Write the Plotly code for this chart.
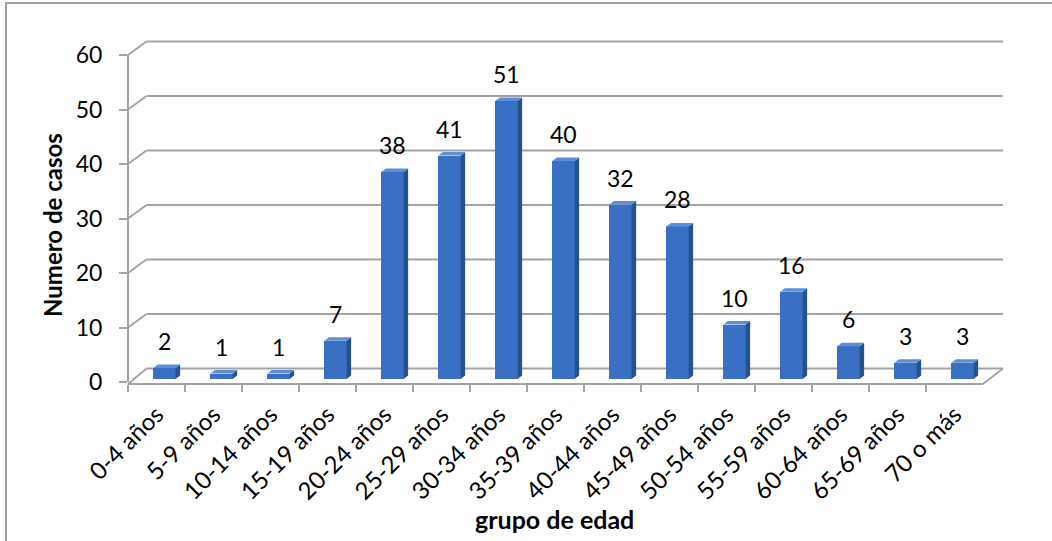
import plotly.graph_objects as go

categories = ["0-4 años", "5-9 años", "10-14 años", "15-19 años", "20-24 años",
              "25-29 años", "30-34 años", "35-39 años", "40-44 años", "45-49 años",
              "50-54 años", "55-59 años", "60-64 años", "65-69 años", "70 o más"]
casos = [2, 1, 1, 7, 38, 41, 51, 40, 32, 28, 10, 16, 6, 3, 3]
y_ticks = [0, 10, 20, 30, 40, 50, 60]
x_title = "grupo de edad"
y_title = "Numero de casos"

W, H = 1052, 541
X0, X1 = 128, 983          # front x extent (px)
Y0, YTOP = 382, 55         # pixel of value 0 and value 60
YMAX = 60
S = (Y0 - YTOP) / YMAX     # px per unit
BX, BY = 18.5, 13.5        # back-wall offset
OX, OY = 8, 3              # bar offset
FLOOR = 384
FONT = "Lato"
GRID = "#a3a3a3"

def px(x):
    return x / W

def py(y):
    return 1 - y / H

n = len(categories)
idx = list(range(n))
pcat = (X1 - X0) / n
hw = 0.195
dxu = 4.5 / pcat
dyu = 3.5 / S

fig = go.Figure()
fig.add_trace(go.Scatter(x=categories, y=[None] * n, xaxis="x", yaxis="y",
                         mode="markers", showlegend=False, hoverinfo="skip"))
fig.add_trace(go.Bar(x=idx, y=casos, xaxis="x2", yaxis="y2", width=2 * hw,
                     marker=dict(color="#3A70C4", line=dict(width=0)),
                     showlegend=False))

shapes = []
# frame
shapes.append(dict(type="rect", xref="paper", yref="paper", x0=px(6), x1=px(1070),
                   y0=py(560), y1=py(3), line=dict(color="#a0a0a0", width=2),
                   fillcolor="rgba(0,0,0,0)", layer="below"))
# back wall gridlines + diagonals
for v in y_ticks:
    yf = Y0 - v * S
    yb = yf - BY
    shapes.append(dict(type="line", xref="paper", yref="paper", x0=px(X0 + BX), x1=px(1003),
                       y0=py(yb), y1=py(yb), line=dict(color=GRID, width=2), layer="below"))
    y_start = FLOOR if v == 0 else yf
    shapes.append(dict(type="line", xref="paper", yref="paper", x0=px(X0), x1=px(X0 + BX),
                       y0=py(y_start), y1=py(yb), line=dict(color=GRID, width=2), layer="below"))
# right floor diagonal
shapes.append(dict(type="line", xref="paper", yref="paper", x0=px(X1), x1=px(1003),
                   y0=py(FLOOR), y1=py(Y0 - BY), line=dict(color=GRID, width=2), layer="below"))
# 3D bar side and top faces
for i, v in zip(idx, casos):
    side = (f"M {i + hw},0 L {i + hw + dxu},{dyu} L {i + hw + dxu},{v + dyu} "
            f"L {i + hw},{v} Z")
    top = (f"M {i - hw},{v} L {i + hw},{v} L {i + hw + dxu},{v + dyu} "
           f"L {i - hw + dxu},{v + dyu} Z")
    shapes.append(dict(type="path", xref="x2", yref="y2", path=side,
                       fillcolor="#24528F", line=dict(width=0), layer="above"))
    shapes.append(dict(type="path", xref="x2", yref="y2", path=top,
                       fillcolor="#5B8FDA", line=dict(width=0), layer="above"))

annotations = []
for i, v in zip(idx, casos):
    annotations.append(dict(x=i, y=v, xref="x2", yref="y2", text=str(v), showarrow=False,
                            yanchor="middle", xanchor="center", yshift=27,
                            font=dict(family=FONT, size=23, color="#000")))
annotations.append(dict(x=px(554), y=py(519), xref="paper", yref="paper",
                        xanchor="center", yanchor="middle",
                        text=f"<b>{x_title}</b>", showarrow=False,
                        font=dict(family=FONT, size=25, color="#000")))
annotations.append(dict(x=px(53), y=py(225), xref="paper", yref="paper",
                        xanchor="center", yanchor="middle",
                        text=f"<b>{y_title}</b>", showarrow=False, textangle=-90,
                        font=dict(family=FONT, size=24, color="#000")))

fig.update_layout(
    width=W, height=H, autosize=False,
    margin=dict(l=0, r=0, t=0, b=0, pad=0, autoexpand=False),
    paper_bgcolor="white", plot_bgcolor="rgba(0,0,0,0)",
    showlegend=False, bargap=0,
    xaxis=dict(domain=[px(X0), px(X1)], type="category", categoryorder="array",
               categoryarray=categories, range=[-0.5, n - 0.5],
               anchor="free", position=py(FLOOR), automargin=False,
               showline=True, linecolor=GRID, linewidth=2,
               ticks="outside", tickson="boundaries", ticklen=7, tickcolor=GRID, tickwidth=2,
               tickangle=-45, ticklabelstandoff=6,
               tickfont=dict(family=FONT, size=24, color="#000"),
               showgrid=False, zeroline=False, fixedrange=True),
    yaxis=dict(domain=[py(Y0), py(YTOP)], range=[0, YMAX], tickvals=y_ticks,
               anchor="free", position=px(X0), automargin=False,
               showline=True, linecolor=GRID, linewidth=2,
               ticks="outside", ticklen=8, tickcolor=GRID, tickwidth=2,
               ticklabelstandoff=12,
               tickfont=dict(family=FONT, size=23, color="#000"),
               showgrid=False, zeroline=False, fixedrange=True),
    xaxis2=dict(domain=[px(X0 + OX), px(X1 + OX)], range=[-0.5, n - 0.5],
                anchor="y2", visible=False, fixedrange=True, automargin=False),
    yaxis2=dict(domain=[py(Y0 - OY), py(YTOP - OY)], range=[0, YMAX],
                anchor="x2", visible=False, fixedrange=True, automargin=False),
    shapes=shapes, annotations=annotations,
)

fig.write_html("out.html", config={"responsive": False, "displayModeBar": False},
               post_script="document.body.style.margin='0';document.body.style.overflow='hidden';")
